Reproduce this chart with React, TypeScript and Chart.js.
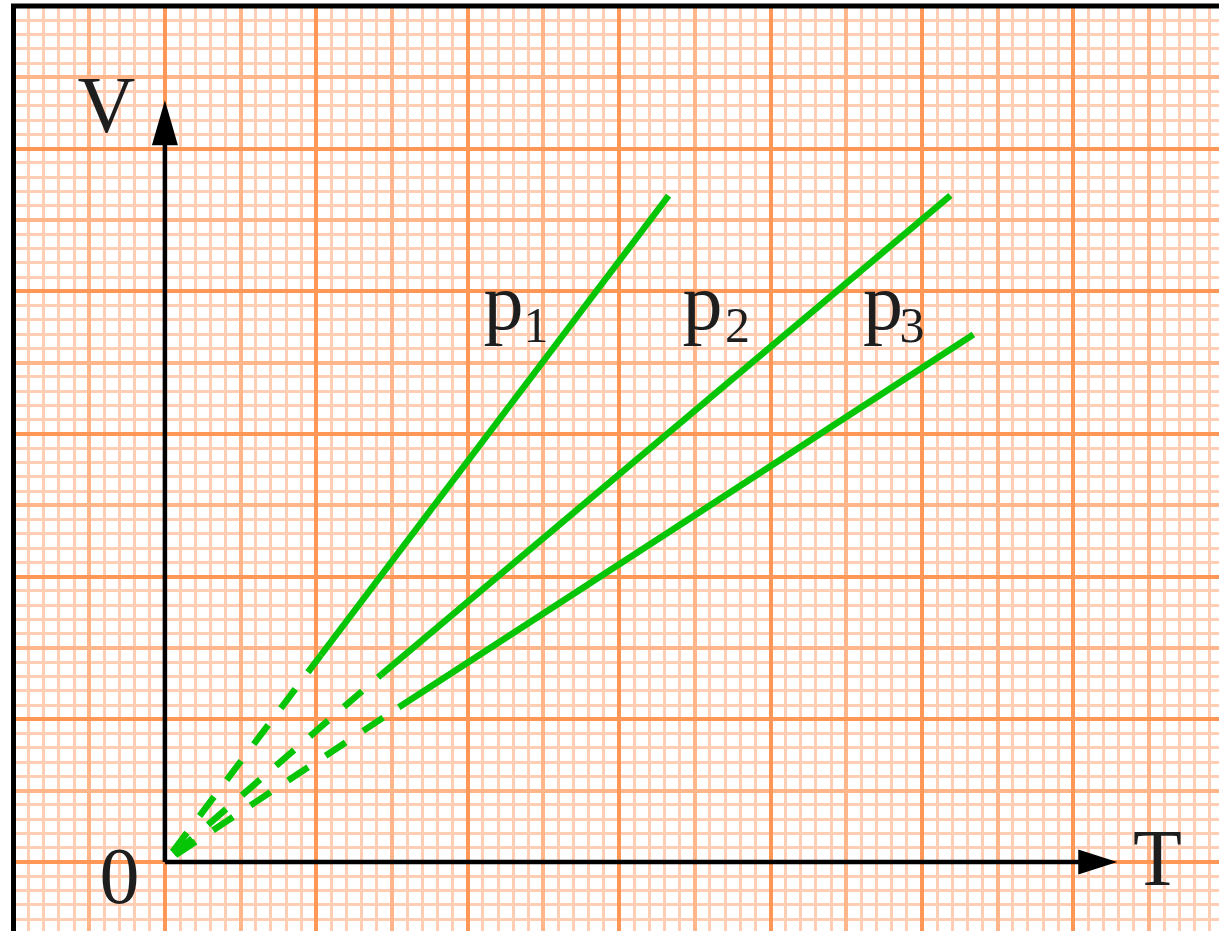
import React, { useEffect, useRef } from 'react';
import { Chart, registerables } from 'chart.js';

Chart.register(...registerables);

// ---- data (T and V measured in minor squares of the graph paper) ----
const seriesNames = ['p', 'p', 'p'];
const seriesSubscripts = ['1', '2', '3'];
const dashStartT = [0.5, 0.6, 0.7];
const dashStartV = [0.71, 0.55, 0.49];
const solidStartT = [10.3, 14.3, 15.45];
const solidStartV = [14.5, 13.15, 10.85];
const solidEndT = [33.27, 51.88, 53.4];
const solidEndV = [46.71, 46.71, 36.97];

const axisNames = ['V', 'T', '0'];
const tAxisEnd = 61;
const vAxisEnd = 51;
const tArrowTip = 62.9;
const vArrowTip = 53.4;

// graph-paper range
const T_MIN = -10;
const T_MAX = 69.62;
const V_MIN = -4.835;
const V_MAX = 60;

// label anchors in data units
const axisLabelT = [-3.86, 65.56, -3.0];
const axisLabelV = [51.17, -1.61, -2.87];
const seriesLabelT = [22.36, 35.51, 47.43];
const seriesLabelV = [37.36, 37.36, 37.36];
const subLabelT = [24.51, 37.82, 49.35];
const subLabelV = [36.45, 36.45, 36.45];

const GREEN = 'rgb(6,196,6)';
const MINOR = '#ffceb4';
const MEDIUM = '#ffb68b';
const MAJOR = '#ff9857';

function ticksEvery(min: number, max: number, step: number, skip: number) {
  const out: { value: number }[] = [];
  for (let v = Math.ceil(min / step) * step; v <= max; v += step) {
    if (skip && Math.abs(v) % skip === 0) continue;
    out.push({ value: v });
  }
  return out;
}

function paperScale(axis: 'x' | 'y', min: number, max: number, step: number, skip: number, color: string, width: number, z: number) {
  return {
    type: 'linear',
    axis,
    position: axis === 'x' ? 'bottom' : 'left',
    min,
    max,
    border: { display: false },
    ticks: { display: false, stepSize: 1 },
    grid: { drawTicks: false, color, lineWidth: width, z },
    afterBuildTicks: (s: any) => {
      s.ticks = ticksEvery(min, max, step, skip);
    },
  };
}

const overlay = {
  id: 'overlay',
  beforeDraw(chart: any) {
    const { ctx, width, height } = chart;
    ctx.save();
    ctx.fillStyle = '#ffffff';
    ctx.fillRect(0, 0, width, height);
    ctx.restore();
  },
  afterDatasetsDraw(chart: any) {
    const { ctx, width, height } = chart;
    const xs = chart.scales.x;
    const ys = chart.scales.y;
    const px = (v: number) => xs.getPixelForValue(v);
    const py = (v: number) => ys.getPixelForValue(v);
    ctx.save();
    // frame (left + top)
    ctx.strokeStyle = '#000';
    ctx.lineWidth = 5;
    ctx.beginPath();
    ctx.moveTo(px(T_MIN), height);
    ctx.lineTo(px(T_MIN), py(V_MAX));
    ctx.lineTo(width, py(V_MAX));
    ctx.stroke();

    // arrowheads
    ctx.fillStyle = '#000';
    const vx = px(0);
    const vt = py(vArrowTip);
    ctx.beginPath();
    ctx.moveTo(vx, vt);
    ctx.lineTo(vx - 13, vt + 45);
    ctx.lineTo(vx + 13, vt + 45);
    ctx.closePath();
    ctx.fill();
    const ty = py(0);
    const tt = px(tArrowTip);
    ctx.beginPath();
    ctx.moveTo(tt, ty);
    ctx.lineTo(tt - 39, ty - 12.5);
    ctx.lineTo(tt - 39, ty + 12.5);
    ctx.closePath();
    ctx.fill();

    // labels
    ctx.fillStyle = '#1e1e1e';
    ctx.textAlign = 'center';
    ctx.textBaseline = 'alphabetic';
    ctx.font = '80px "Liberation Serif", "DejaVu Serif", serif';
    axisNames.forEach((t, i) => ctx.fillText(t, px(axisLabelT[i]), py(axisLabelV[i])));
    seriesNames.forEach((t, i) => ctx.fillText(t, px(seriesLabelT[i]), py(seriesLabelV[i])));
    ctx.font = '50px "Liberation Serif", "DejaVu Serif", serif';
    seriesSubscripts.forEach((t, i) => ctx.fillText(t, px(subLabelT[i]), py(subLabelV[i])));
    ctx.restore();
  },
};

export default function App() {
  const ref = useRef<HTMLCanvasElement | null>(null);
  useEffect(() => {
    if (!ref.current) return;
    const datasets: any[] = [];
    for (let i = 0; i < seriesNames.length; i++) {
      datasets.push({
        label: seriesNames[i] + seriesSubscripts[i],
        xAxisID: 'x',
        yAxisID: 'y',
        data: [
          { x: solidStartT[i], y: solidStartV[i] },
          { x: solidEndT[i], y: solidEndV[i] },
        ],
        showLine: true,
        borderColor: GREEN,
        borderWidth: 6.5,
        borderCapStyle: 'butt',
        pointRadius: 0,
      });
      datasets.push({
        label: seriesNames[i] + seriesSubscripts[i] + ' extrapolated',
        xAxisID: 'x',
        yAxisID: 'y',
        data: [
          { x: dashStartT[i], y: dashStartV[i] },
          { x: solidStartT[i], y: solidStartV[i] },
        ],
        showLine: true,
        borderColor: GREEN,
        borderWidth: 6.5,
        borderDash: [24, 21],
        borderCapStyle: 'butt',
        pointRadius: 0,
      });
    }
    datasets.push({
      label: 'V axis',
      xAxisID: 'x',
      yAxisID: 'y',
      data: [
        { x: 0, y: 0 },
        { x: 0, y: vAxisEnd },
      ],
      showLine: true,
      borderColor: '#000',
      borderWidth: 4.5,
      pointRadius: 0,
    });
    datasets.push({
      label: 'T axis',
      xAxisID: 'x',
      yAxisID: 'y',
      data: [
        { x: 0, y: 0 },
        { x: tAxisEnd, y: 0 },
      ],
      showLine: true,
      borderColor: '#000',
      borderWidth: 4.5,
      pointRadius: 0,
    });

    const chart = new Chart(ref.current, {
      type: 'scatter',
      data: { datasets },
      options: {
        animation: false,
        responsive: false,
        events: [],
        layout: { padding: { left: 13.5, top: 6, right: 0, bottom: 0 } },
        plugins: { legend: { display: false }, tooltip: { enabled: false } },
        scales: {
          x: paperScale('x', T_MIN, T_MAX, 1, 5, MINOR, 3, -1) as any,
          y: paperScale('y', V_MIN, V_MAX, 1, 5, MINOR, 3, -1) as any,
          xMed: paperScale('x', T_MIN, T_MAX, 5, 10, MEDIUM, 4, -0.8) as any,
          yMed: paperScale('y', V_MIN, V_MAX, 5, 10, MEDIUM, 4, -0.8) as any,
          xMaj: paperScale('x', T_MIN, T_MAX, 10, 0, MAJOR, 4, -0.5) as any,
          yMaj: paperScale('y', V_MIN, V_MAX, 10, 0, MAJOR, 4, -0.5) as any,
        },
      },
      plugins: [overlay],
    });
    return () => chart.destroy();
  }, []);

  return (
    <div style={{ position: 'fixed', left: 0, top: 0, width: 1219, height: 931, background: '#fff' }}>
      <canvas ref={ref} width={1219} height={931} style={{ width: 1219, height: 931, display: 'block' }} />
    </div>
  );
}
